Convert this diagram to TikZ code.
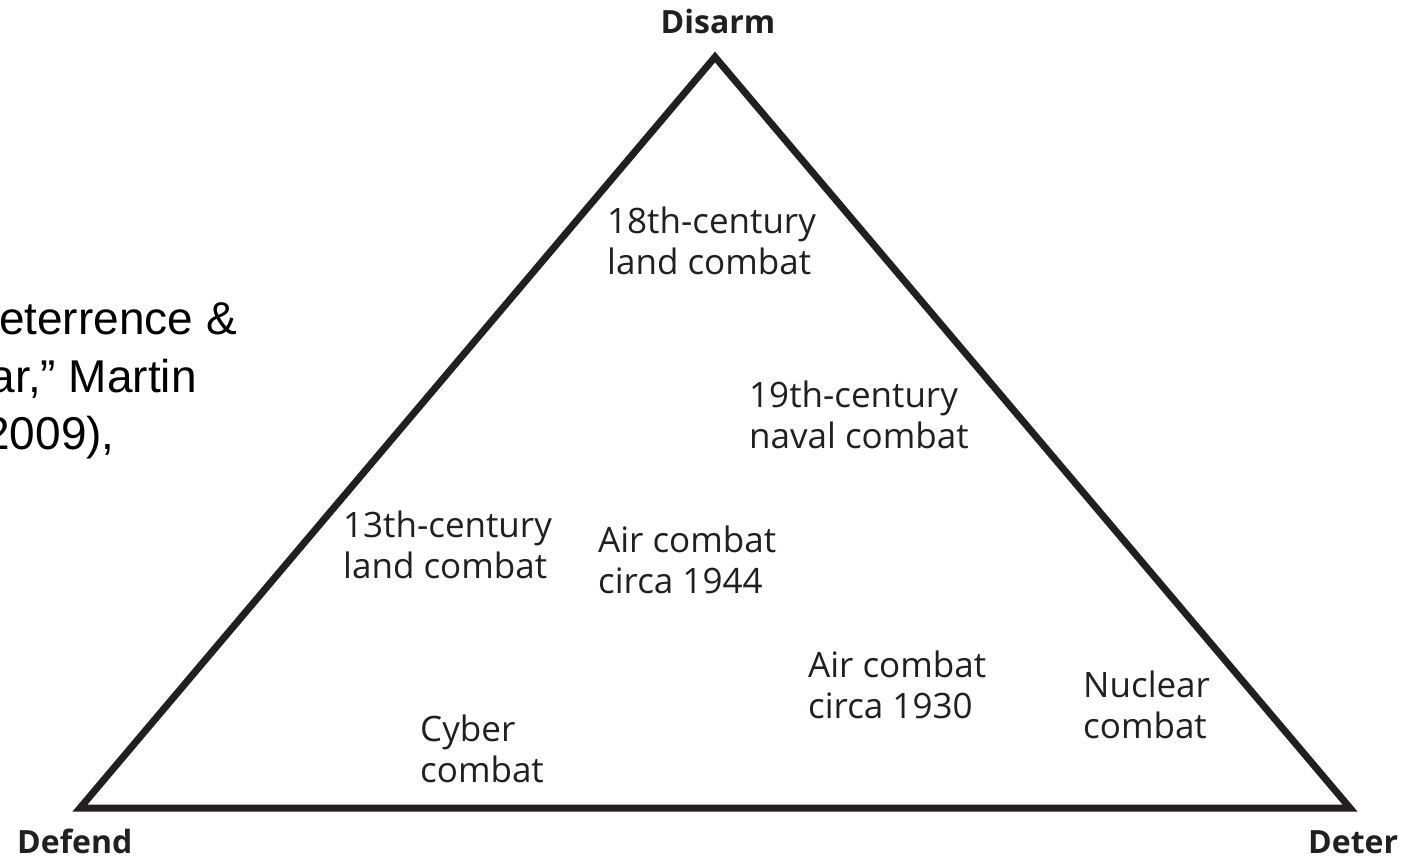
\documentclass[tikz,border=0pt]{standalone}
\usepackage{fontspec}
\setmainfont{Open Sans}
\newfontfamily\arialfont{Liberation Sans}
\definecolor{ink}{HTML}{231F20}
\begin{document}
\begin{tikzpicture}[x=1pt,y=-1pt,
  lbl/.style={anchor=base west, inner sep=0pt, align=left, text=ink, font=\fontsize{35}{41}\selectfont},
  corner/.style={anchor=base west, inner sep=0pt, text=ink, font=\fontsize{32}{38}\selectfont\bfseries},
  cut/.style={anchor=base east, inner sep=0pt, text=black, font=\arialfont\fontsize{46}{58}\selectfont},
  edge/.style={line width=7pt, line join=miter, draw=ink}]
\useasboundingbox (0,0) rectangle (1402,862);
\fill[white] (0,0) rectangle (1402,862);
\clip (0,0) rectangle (1402,862);
% left cut-off text
\node[cut] (c1) at (237,334) {eterrence \&};
\node[cut] (c2) at (197,392) {ar,” Martin};
\node[cut] (c3) at (115,449) {2009),};
% triangle
\coordinate (top) at (715,57);
\coordinate (bl) at (80,808);
\coordinate (br) at (1350,808);
\draw[edge] (bl) -- (top) -- (br) -- cycle;
% corner labels
\node[corner, anchor=base] (disarm) at (718,33) {Disarm};
\node[corner] (defend) at (17,853) {Defend};
\node[corner] (deter) at (1308,853) {Deter};
% inner labels (anchor is the baseline of the last line)
\node[lbl] (l18) at (607,274) {18th-century\\land combat};
\node[lbl] (n19) at (749,448) {19th-century\\naval combat};
\node[lbl] (l13) at (343,578) {13th-century\\land combat};
\node[lbl] (a44) at (598,593) {Air combat\\circa 1944};
\node[lbl] (a30) at (808,718) {Air combat\\circa 1930};
\node[lbl] (nuc) at (1083,738) {Nuclear\\combat};
\node[lbl] (cyb) at (420,782) {Cyber\\combat};
\end{tikzpicture}
\end{document}
